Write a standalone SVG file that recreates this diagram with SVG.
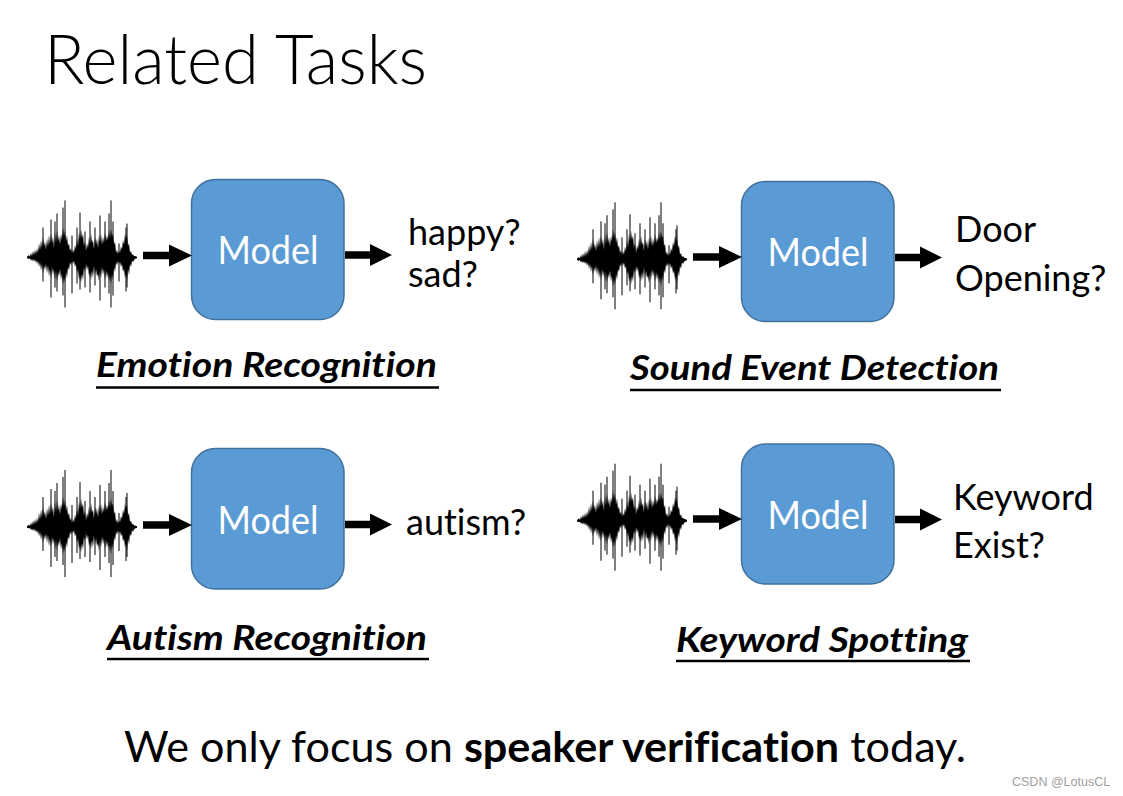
<svg xmlns="http://www.w3.org/2000/svg" xmlns:xlink="http://www.w3.org/1999/xlink" width="1123" height="796" viewBox="0 0 1123 796">
<style>
.t{font-family:Lato,"Open Sans","Liberation Sans",sans-serif;fill:#000;font-variant-ligatures:none;font-feature-settings:"liga" 0,"clig" 0}
.title{font-size:69px;font-weight:300}
.model{font-size:38px;fill:#fff;text-anchor:middle}
.out{font-size:36px}
.lab{font-size:34px;font-weight:700;font-style:italic}
.ul{stroke:#000;stroke-width:2.5}
.box{fill:#5B9BD5;stroke:#41719C;stroke-width:1.5}
.bottom{font-size:42px}
.wm{font-family:"Liberation Sans",Arial,sans-serif;font-size:12.5px;fill:#a0a0a0}
</style>
<defs>
<g id="wave">
<path fill="#000" transform="scale(1,0.8)" d="M0,-1 L2,-3 3,-1 4,-6 5,-2 6,-8 7,-3 8,-10 9,-4 10,-12 11,-6 12,-18 13,-9 14,-22 15,-12 16,-26 17,-14 18,-20 19,-10 20,-24 21,-14 22,-28 23,-16 24,-30 25,-18 26,-26 27,-12 28,-32 29,-18 30,-34 31,-20 32,-28 33,-16 34,-30 35,-22 36,-38 37,-26 38,-34 39,-20 40,-28 41,-14 42,-18 43,-8 44,-12 45,-5 46,-10 47,-6 48,-16 49,-10 50,-24 51,-14 52,-32 53,-22 54,-36 55,-24 56,-30 57,-14 58,-20 59,-8 60,-18 61,-12 62,-26 63,-16 64,-30 65,-18 66,-22 67,-10 68,-26 69,-16 70,-24 71,-12 72,-28 73,-18 74,-30 75,-16 76,-26 77,-18 78,-32 79,-20 80,-28 81,-22 82,-34 83,-24 84,-36 85,-26 86,-30 87,-16 88,-20 89,-6 90,-10 91,-4 92,-8 93,-6 94,-14 95,-10 96,-22 97,-16 98,-30 99,-22 100,-28 101,-14 102,-18 103,-6 104,-8 105,-3 106,-4 107,-2 108,-2 110,-1 L110,1 108,2 107,3 106,6 105,4 104,12 103,8 102,22 101,14 100,30 99,20 98,26 97,14 96,18 95,8 94,12 93,5 92,8 91,4 90,10 89,6 88,18 87,12 86,28 85,20 84,34 83,22 82,30 81,18 80,26 79,16 78,28 77,14 76,22 75,12 74,26 73,16 72,30 71,20 70,24 69,14 68,22 67,10 66,26 65,16 64,28 63,18 62,24 61,10 60,16 59,8 58,18 57,12 56,28 55,20 54,32 53,22 52,28 51,14 50,20 49,8 48,12 47,4 46,8 45,4 44,10 43,6 42,16 41,12 40,26 39,18 38,32 37,24 36,34 35,20 34,28 33,14 32,24 31,18 30,30 29,16 28,28 27,14 26,22 25,12 24,26 23,14 22,24 21,10 20,20 19,8 18,16 17,10 16,20 15,8 14,16 13,6 12,12 11,4 10,8 9,3 8,6 7,2 6,5 5,2 4,4 3,1 2,2 0,1 Z"/>
<path stroke="#000" stroke-width="1" fill="none" d="M0,0 H110 M16,-30 V24 M24,-38 V40 M28,-36 V30 M30,-44 V34 M36,-50 V38 M38,-57 V50 M45,-22 V36 M50,-30 V26 M53,-45 V32 M58,-26 V30 M63,-36 V35 M68,-30 V28 M73,-42 V43 M78,-36 V30 M82,-44 V36 M84,-57 V50 M86,-36 V38 M92,-14 V24 M99,-30 V34 M100,-34 V30"/>
</g>
<path id="arrIn" d="M143,251.7 H169 V244.5 L192,255.5 L169,266.5 V259.3 H143 Z" fill="#000"/>
<path id="arrOut" d="M345,251.3 H370 V244 L392,255 L370,266 V258.7 H345 Z" fill="#000"/>
</defs>
<rect width="1123" height="796" fill="#fff"/>

<g id="title"><text class="t title" x="44" y="84" textLength="383" lengthAdjust="spacingAndGlyphs">Related Tasks</text></g>

<g id="emotion">
<use xlink:href="#wave" x="27" y="257.5"/>
<rect class="box" x="191.5" y="179.5" width="152.5" height="140" rx="24"/>
<text class="t model" x="268" y="264" textLength="101" lengthAdjust="spacingAndGlyphs">Model</text>
<text class="t out" x="408" y="245">happy?</text>
<text class="t out" x="408" y="287">sad?</text>
<text class="t lab" x="96" y="377" textLength="341" lengthAdjust="spacingAndGlyphs">Emotion Recognition</text>
<line class="ul" x1="96" y1="387.5" x2="439" y2="387.5"/>
</g>

<g id="sound">
<use xlink:href="#wave" x="577" y="259.3"/>
<rect class="box" x="741.5" y="181.5" width="152.5" height="140" rx="24"/>
<text class="t model" x="818" y="266" textLength="101" lengthAdjust="spacingAndGlyphs">Model</text>
<text class="t out" x="955" y="242">Door</text>
<text class="t out" x="955" y="291">Opening?</text>
<text class="t lab" x="630" y="380" textLength="369" lengthAdjust="spacingAndGlyphs">Sound Event Detection</text>
<line class="ul" x1="630" y1="390" x2="1001" y2="390"/>
</g>

<g id="autism">
<use xlink:href="#wave" x="27" y="527"/>
<rect class="box" x="191.5" y="448.5" width="152.5" height="140.5" rx="24"/>
<text class="t model" x="268" y="533.5" textLength="101" lengthAdjust="spacingAndGlyphs">Model</text>
<text class="t out" x="406" y="535">autism?</text>
<text class="t lab" x="107" y="650" textLength="320" lengthAdjust="spacingAndGlyphs">Autism Recognition</text>
<line class="ul" x1="107" y1="659" x2="429" y2="659"/>
</g>

<g id="keyword">
<use xlink:href="#wave" x="577" y="520.7"/>
<rect class="box" x="741.5" y="444" width="152.5" height="140" rx="24"/>
<text class="t model" x="818" y="529" textLength="101" lengthAdjust="spacingAndGlyphs">Model</text>
<text class="t out" x="953" y="510">Keyword</text>
<text class="t out" x="953" y="558">Exist?</text>
<text class="t lab" x="676" y="652" textLength="292" lengthAdjust="spacingAndGlyphs">Keyword Spotting</text>
<line class="ul" x1="676" y1="661" x2="970" y2="661"/>
</g>

<g id="connectors">
<use xlink:href="#arrIn"/>
<use xlink:href="#arrOut"/>
<use xlink:href="#arrIn" x="550" y="1.5"/>
<use xlink:href="#arrOut" x="550" y="2.5"/>
<use xlink:href="#arrIn" x="0" y="269.5"/>
<use xlink:href="#arrOut" x="0" y="269.5"/>
<use xlink:href="#arrIn" x="550" y="263.5"/>
<use xlink:href="#arrOut" x="550" y="264.5"/>
</g>

<g id="footer">
<text class="t bottom" x="124" y="762" textLength="842" lengthAdjust="spacingAndGlyphs">We only focus on <tspan font-weight="700">speaker verification</tspan> today.</text>
<text class="wm" x="1012" y="786">CSDN @LotusCL</text>
</g>
</svg>
